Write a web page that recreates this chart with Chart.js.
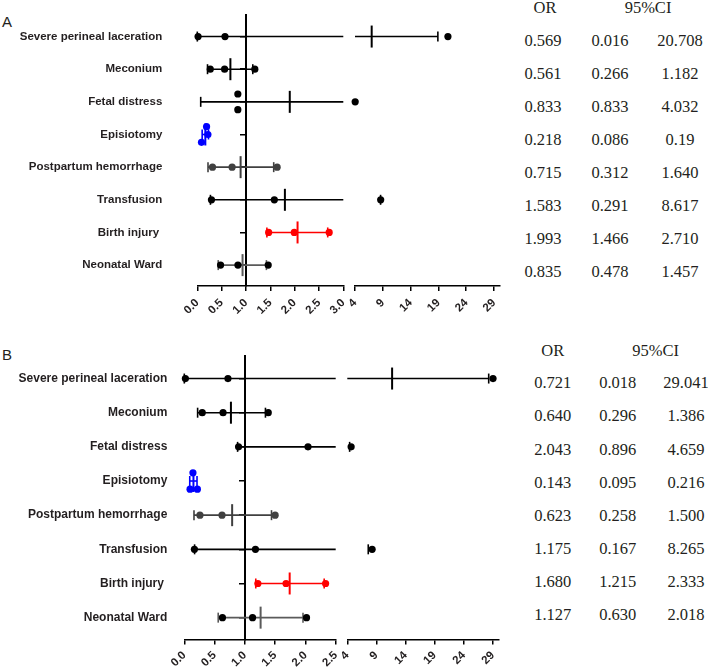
<!DOCTYPE html>
<html><head><meta charset="utf-8">
<script src="https://cdn.jsdelivr.net/npm/chart.js@4.4.0/dist/chart.umd.min.js"></script>
<style>
body{margin:0;width:708px;height:669px;position:relative;background:#fff;overflow:hidden}
canvas{position:absolute}
.t{position:absolute;font-family:"Liberation Serif","Times New Roman",serif;font-size:16.5px;color:#231f20;transform:translate(-50%,-50%);white-space:nowrap;line-height:1}
.p{position:absolute;font-family:"Liberation Sans",Arial,sans-serif;font-size:15px;color:#231f20;line-height:1}
</style></head><body>
<div class="p" style="left:2px;top:14px">A</div>
<div class="p" style="left:2px;top:347px">B</div>
<canvas id="aL" width="350" height="330" style="left:0;top:0"></canvas>
<canvas id="aR" width="170" height="330" style="left:343px;top:0"></canvas>
<canvas id="bL" width="345" height="339" style="left:0;top:330px"></canvas>
<canvas id="bR" width="175" height="339" style="left:335px;top:330px"></canvas>
<div id="tables"></div>
<script>
// ---------- data ----------
const categories = ["Severe perineal laceration","Meconium","Fetal distress","Episiotomy","Postpartum hemorrhage","Transfusion","Birth injury ","Neonatal Ward"];
const orA    = ["0.569","0.561","0.833","0.218","0.715","1.583","1.993","0.835"];
const lowA   = ["0.016","0.266","0.833","0.086","0.312","0.291","1.466","0.478"];
const highA  = ["20.708","1.182","4.032","0.19","1.640","8.617","2.710","1.457"];
const orB    = ["0.721","0.640","2.043","0.143","0.623","1.175","1.680","1.127"];
const lowB   = ["0.018","0.296","0.896","0.095","0.258","0.167","1.215","0.630"];
const highB  = ["29.041","1.386","4.659","0.216","1.500","8.265","2.333","2.018"];
// error bars as drawn in the picture (centre bar, left and right whisker ends)
const barMidA  = [7.0, 0.68, 1.90, 0.165, 0.89, 1.80, 2.06, 0.93];
const barLowA  = [0, 0.21, 0.07, 0.10, 0.22, 0.27, 1.43, 0.43];
const barHighA = [18.9, 1.14, 3.75, 0.23, 1.57, 8.6, 2.68, 1.42];
const barMidB  = [11.7, 0.77, null, 0.151, 0.79, null, 1.74, 1.26];
const barLowB  = [0, 0.22, 0.88, 0.09, 0.16, 0.17, 1.18, 0.56];
const barHighB = [28.3, 1.34, 4.4, 0.21, 1.44, 7.6, 2.31, 1.96];
const ticksLeftA = [0, 0.5, 1, 1.5, 2, 2.5, 3];
const ticksLeftB = [0, 0.5, 1, 1.5, 2, 2.5];
const ticksRight = [4, 9, 14, 19, 24, 29];
const tableHead = ["OR", "95%CI"];

// ---------- styles ----------
const SANS = '"Liberation Sans", Arial, sans-serif';
const INK = '#231f20';
const lineCol = ['#000','#000','#000','#0000ff','#404040','#000','#ff0000','#5a5a5a'];
const dotCol  = ['#000','#000','#000','#0000ff','#404040','#000','#ff0000','#000'];
// vertical spread of overlapping dots (row units) [or, low, high]
const spreadA = {2: [-0.24, 0.24, 0], 3: [0, 0.24, -0.24]};
const spreadB = {3: [-0.24, 0.24, 0.24]};
const Y_MIN = -0.66, Y_MAX = 7.64;

function buildDatasets(p, side, dMin, dMax) {
  const lines = [], caps = [], mids = [], dots = [];
  const inDom = v => v != null && v >= dMin && v <= dMax;
  categories.forEach((c, i) => {
    const a = p.bLow[i], b = p.bHigh[i], m = p.mid[i];
    let seg = null;
    if (side === 'left') {
      if (a <= dMax) seg = [Math.max(a, dMin), Math.min(b, dMax)];
    } else {
      if (m != null && m >= dMin && b >= dMin) seg = [Math.max(a, dMin), Math.min(b, dMax)];
    }
    if (seg) lines.push({label: 'w' + i, type: 'scatter', showLine: true, order: 3,
      data: [{x: seg[0], y: i}, {x: seg[1], y: i}], borderColor: lineCol[i], borderWidth: 1.6,
      pointRadius: 0, clip: false});
    if (inDom(a)) caps.push({x: a, y: i, c: lineCol[i]});
    if (inDom(b)) caps.push({x: b, y: i, c: lineCol[i]});
    if (inDom(m)) mids.push({x: m, y: i, c: lineCol[i]});
    const vals = [p.or[i], p.low[i], p.high[i]].map(parseFloat);
    const sh = p.spread[i] || [0, 0, 0];
    vals.forEach((v, k) => { if (inDom(v)) dots.push({x: v, y: i + sh[k], c: dotCol[i]}); });
  });
  const ds = lines.slice();
  ds.push({type: 'scatter', order: 2, data: caps, pointStyle: 'line', rotation: 90, pointRadius: 5,
    pointBorderColor: caps.map(d => d.c), pointBorderWidth: 1.6, clip: false});
  ds.push({type: 'scatter', order: 1, data: mids, pointStyle: 'line', rotation: 90, pointRadius: 11,
    pointBorderColor: mids.map(d => d.c), pointBorderWidth: 2, clip: false});
  ds.push({type: 'scatter', order: 0, data: dots, pointStyle: 'circle', pointRadius: 3.6,
    pointBackgroundColor: dots.map(d => d.c), pointBorderWidth: 0, clip: false});
  return ds;
}

function makeChart(id, cfg) {
  const ds = buildDatasets(cfg.panel, cfg.side, cfg.xMin, cfg.xMax);
  const scales = {
    x: {type: 'linear', min: cfg.xMin, max: cfg.xMax, position: 'bottom',
      afterBuildTicks: ax => { ax.ticks = cfg.ticks.map(v => ({value: v})); },
      afterFit: ax => { ax.height = cfg.axisH; ax.paddingLeft = 0; ax.paddingRight = 0; },
      ticks: {autoSkip: false, minRotation: 45, maxRotation: 45, padding: cfg.tickPad, color: INK,
        font: {family: SANS, size: 11.5, weight: 'bold'}, callback: v => cfg.fmt(v)},
      grid: {drawOnChartArea: false, drawTicks: true, tickLength: 5, color: '#000', lineWidth: 1.5},
      border: {display: true, color: '#000', width: 1.6}},
    y: {type: 'linear', min: Y_MIN, max: Y_MAX, reverse: true, position: 'left', display: cfg.side === 'left',
      afterBuildTicks: ax => { ax.ticks = categories.map((c, i) => ({value: i})); },
      afterFit: ax => { ax.width = cfg.labelW || 0; ax.paddingTop = 0; ax.paddingBottom = 0; },
      ticks: {autoSkip: false, padding: cfg.labelPad, color: INK,
        font: {family: SANS, size: cfg.labelSize, weight: 'bold'}, callback: v => categories[v]},
      grid: {display: false, drawTicks: false}, border: {display: false}}
  };
  if (cfg.side === 'left') {
    scales.y1 = {type: 'linear', axis: 'y', min: Y_MIN, max: Y_MAX, reverse: true, position: {x: 1},
      afterBuildTicks: ax => { ax.ticks = categories.map((c, i) => ({value: i})); },
      ticks: {display: false},
      grid: {drawOnChartArea: false, drawTicks: true, tickLength: 5, color: '#000', lineWidth: 1.5},
      border: {display: true, color: '#000', width: 2}};
  }
  return new Chart(document.getElementById(id), {
    type: 'scatter',
    data: {datasets: ds},
    options: {responsive: false, animation: false, events: [],
      layout: {padding: cfg.pad, autoPadding: false},
      plugins: {legend: {display: false}, tooltip: {enabled: false}},
      scales}
  });
}

const panelA = {or: orA, low: lowA, high: highA, mid: barMidA, bLow: barLowA, bHigh: barHighA, spread: spreadA};
const panelB = {or: orB, low: lowB, high: highB, mid: barMidB, bLow: barLowB, bHigh: barHighB, spread: spreadB};
const f1 = v => v.toFixed(1), f0 = v => String(v);

makeChart('aL', {panel: panelA, side: 'left', xMin: 0, xMax: 3, ticks: ticksLeftA, fmt: f1, tickPad: 5,
  axisH: 44, labelW: 197.3, labelPad: 35, labelSize: 11.5, pad: {left: 0, right: 6.7, top: 15, bottom: 0}});
makeChart('aR', {panel: panelA, side: 'right', xMin: 4, xMax: 30, ticks: ticksRight, fmt: f0, tickPad: 5,
  axisH: 44, pad: {left: 12, right: 13.4, top: 15, bottom: 0}});
makeChart('bL', {panel: panelB, side: 'left', xMin: 0, xMax: 2.5, ticks: ticksLeftB, fmt: f1, tickPad: 4,
  axisH: 29.5, labelW: 184.3, labelPad: 17, labelSize: 12, pad: {left: 0, right: 9.3, top: 26, bottom: 0}});
makeChart('bR', {panel: panelB, side: 'right', xMin: 4, xMax: 30, ticks: ticksRight, fmt: f0, tickPad: 4,
  axisH: 29.5, pad: {left: 12.3, right: 11.4, top: 26, bottom: 0}});

// ---------- OR / 95%CI table ----------
function table(or, low, high, headY, headX, cols, rowY0, rowStep) {
  const host = document.getElementById('tables');
  const add = (txt, x, y) => { const d = document.createElement('div'); d.className = 't';
    d.style.left = x + 'px'; d.style.top = y + 'px'; d.textContent = txt; host.appendChild(d); };
  add(tableHead[0], headX[0], headY); add(tableHead[1], headX[1], headY);
  or.forEach((v, i) => { const y = rowY0 + rowStep * i;
    add(v, cols[0], y); add(low[i], cols[1], y); add(high[i], cols[2], y); });
}
table(orA, lowA, highA, 8, [545, 648], [543, 610, 680], 40.7, 33.1);
table(orB, lowB, highB, 351, [552.7, 655.7], [552.7, 617.7, 686], 383.3, 33.1);
</script>
</body></html>
